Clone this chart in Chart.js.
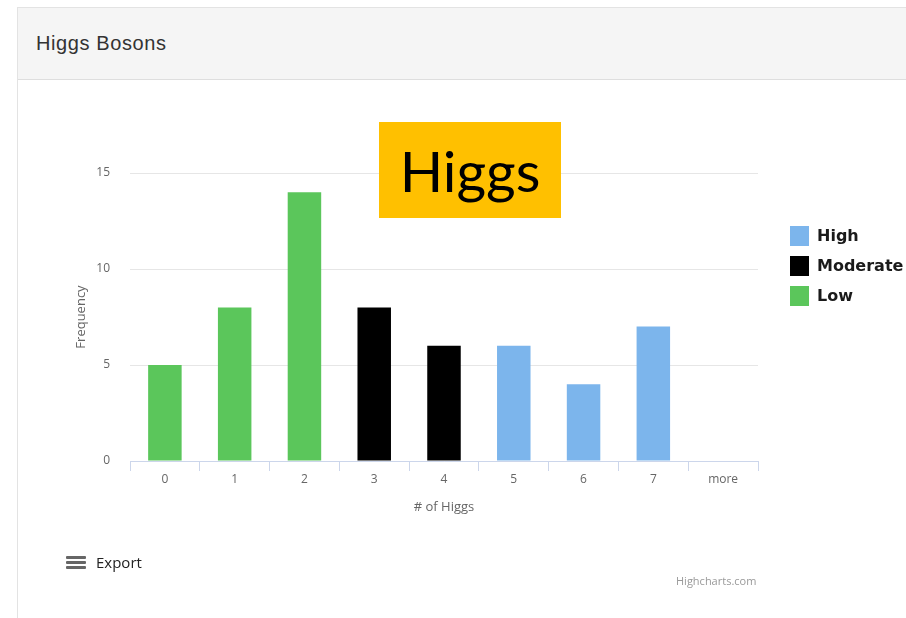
<!DOCTYPE html>
<html>
<head>
<meta charset="utf-8">
<script src="https://cdn.jsdelivr.net/npm/chart.js@4/dist/chart.umd.min.js"></script>
<style>
  html, body { margin: 0; padding: 0; background: #fff; }
  body { width: 906px; height: 618px; position: relative; overflow: hidden; font-family: "Liberation Sans", Arial, sans-serif; }
  .panel { position: absolute; left: 17px; top: 7px; width: 900px; height: 620px; border: 1px solid #e3e3e3; box-sizing: border-box; }
  .panel-head { height: 72px; background: #f5f5f5; border-bottom: 1px solid #dedede; box-sizing: border-box; }
  .panel-head span { position: absolute; left: 18px; top: 24px; font-size: 20px; color: #333; letter-spacing: 0.6px; }
  #chartWrap { position: absolute; left: 18px; top: 80px; width: 888px; height: 538px; }
  .tag { position: absolute; left: 379px; top: 122px; width: 182px; height: 96px; background: #ffc000; color: #000;
         font-family: Lato, "Open Sans", sans-serif; font-size: 57px; line-height: 96px; text-align: center; }
  #legend { position: absolute; left: 790px; top: 226px; font-family: "DejaVu Sans", Verdana, sans-serif; font-weight: bold; font-size: 16px; color: #1a1a1a; }
  #legend div { height: 30px; display: flex; align-items: flex-start; }
  #legend i { display: inline-block; width: 19px; height: 20px; margin-right: 8px; }
  #legend span { line-height: 20px; }
  .export { position: absolute; left: 66px; top: 553px; font-family: "Open Sans", sans-serif; font-size: 15px; color: #222; }
  .export b { position: absolute; left: 0; width: 20px; height: 3px; background: #666; border-radius: 1px; }
  .export span { position: absolute; left: 30px; top: 0; line-height: 18px; white-space: nowrap; }
  .credit { position: absolute; left: 676px; top: 573px; font-family: "Open Sans", sans-serif; font-size: 11px; color: #999; white-space: nowrap; }
</style>
</head>
<body>
<div class="panel"><div class="panel-head"><span>Higgs Bosons</span></div></div>
<div id="chartWrap"><canvas id="higgsChart" width="888" height="538"></canvas></div>
<div class="tag">Higgs</div>
<div id="legend"></div>
<div class="export"><b style="top:3px"></b><b style="top:8px"></b><b style="top:13px"></b><span>Export</span></div>
<div class="credit">Highcharts.com</div>
<script>
const categories = ["0", "1", "2", "3", "4", "5", "6", "7", "more"];
// counts per bucket, split by level
const high     = [null, null, null, null, null, 6, 4, 7, null];
const moderate = [null, null, null, 8, 6, null, null, null, null];
const low      = [5, 8, 14, null, null, null, null, null, 0];
const yTicks = [0, 5, 10, 15];

const series = [
  { label: "High", data: high, color: "#7cb5ec" },
  { label: "Moderate", data: moderate, color: "#000000" },
  { label: "Low", data: low, color: "#5bc65b" },
];

const legendEl = document.getElementById("legend");
series.forEach((s) => {
  const row = document.createElement("div");
  row.innerHTML = `<i style="background:${s.color}"></i><span>${s.label}</span>`;
  legendEl.appendChild(row);
});

const tickFont = { family: "'Open Sans', sans-serif", size: 12 };
const titleFont = { family: "'Open Sans', sans-serif", size: 13 };

new Chart(document.getElementById("higgsChart"), {
  type: "bar",
  data: {
    labels: categories,
    datasets: series.map((s) => ({
      label: s.label,
      data: s.data,
      backgroundColor: s.color,
      borderWidth: 0,
      grouped: false,
      barPercentage: 0.48,
      categoryPercentage: 1,
    })),
  },
  options: {
    responsive: false,
    animation: false,
    layout: { padding: { left: 51, right: 148, top: 93, bottom: 99 } },
    plugins: { legend: { display: false }, tooltip: { enabled: false } },
    scales: {
      x: {
        grid: { drawOnChartArea: false, color: "#ccd6eb", tickLength: 10, offset: true },
        border: { color: "#ccd6eb" },
        ticks: { color: "#666", font: tickFont, padding: 1 },
        title: { display: true, text: "# of Higgs", color: "#666", font: titleFont },
        afterFit: (s) => { s.height = 58; },
      },
      y: {
        min: 0,
        max: 15,
        afterBuildTicks: (s) => { s.ticks = yTicks.map((v) => ({ value: v })); },
        grid: { color: "#e6e6e6", drawTicks: false },
        border: { display: false },
        ticks: { color: "#666", font: tickFont, padding: 20 },
        title: { display: true, text: "Frequency", color: "#666", font: titleFont },
        afterFit: (s) => { s.width = 61; },
      },
    },
  },
});
</script>
</body>
</html>
